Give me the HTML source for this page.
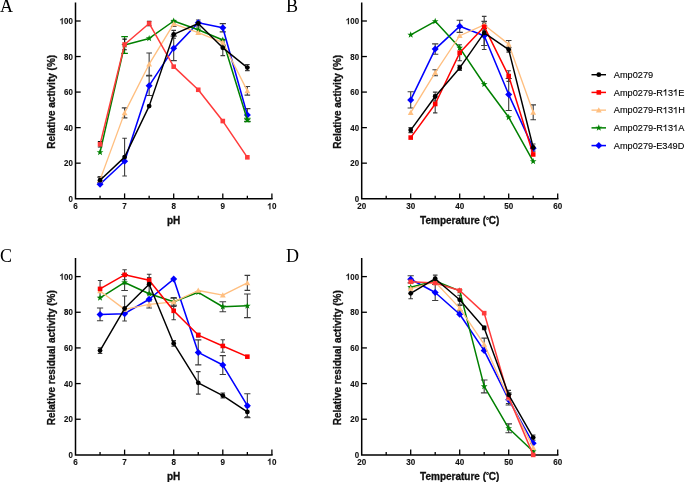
<!DOCTYPE html>
<html><head><meta charset="utf-8"><style>
html,body{margin:0;padding:0;background:#fff;width:685px;height:482px;overflow:hidden}
svg{display:block;will-change:transform}
</style></head><body>
<svg width="685" height="482" viewBox="0 0 685 482">
<style>.tl{font:bold 9.0px "Liberation Sans",sans-serif;fill:#111;stroke:#111;stroke-width:.12px}.tt{font:bold 10px "Liberation Sans",sans-serif;fill:#111;stroke:#111;stroke-width:.3px}.pl{font:18px "Liberation Serif",serif;fill:#000}.lg{font:9.2px "Liberation Sans",sans-serif;font-kerning:none;fill:#000;stroke:#000;stroke-width:.12px}</style>
<rect width="100%" height="100%" fill="#fff"/>
<path d="M75.5 3.23V198.7H271.9" fill="none" stroke="#000" stroke-width="1.5" stroke-linecap="square"/>
<g transform="translate(68.5 201.85) scale(0.8791 1)"><text x="0" y="0" class="tl">0</text></g>
<path d="M75.5 163.16H80.7" stroke="#000" stroke-width="1.3"/>
<g transform="translate(64.1 166.31) scale(0.8791 1)"><text x="0" y="0" class="tl">20</text></g>
<path d="M75.5 127.62H80.7" stroke="#000" stroke-width="1.3"/>
<g transform="translate(64.1 130.77) scale(0.8791 1)"><text x="0" y="0" class="tl">40</text></g>
<path d="M75.5 92.08H80.7" stroke="#000" stroke-width="1.3"/>
<g transform="translate(64.1 95.23) scale(0.8791 1)"><text x="0" y="0" class="tl">60</text></g>
<path d="M75.5 56.54H80.7" stroke="#000" stroke-width="1.3"/>
<g transform="translate(64.1 59.69) scale(0.8791 1)"><text x="0" y="0" class="tl">80</text></g>
<path d="M75.5 21H80.7" stroke="#000" stroke-width="1.3"/>
<g transform="translate(59.7 24.15) scale(0.8791 1)"><text x="0" y="0" class="tl"> 00</text><path transform="translate(0 0) scale(0.004395 -0.004395)" d="M780 0L510 0L510 1040Q400 940 110 840L110 1050Q330 1125 450 1235Q560 1335 600 1425L780 1425Z" fill="#111" stroke="#111" stroke-width="27.3"/></g>
<path d="M100.05 198.7V195.7" stroke="#000" stroke-width="1.3"/>
<path d="M124.6 198.7V193.4" stroke="#000" stroke-width="1.3"/>
<path d="M149.15 198.7V195.7" stroke="#000" stroke-width="1.3"/>
<path d="M173.7 198.7V193.4" stroke="#000" stroke-width="1.3"/>
<path d="M198.25 198.7V195.7" stroke="#000" stroke-width="1.3"/>
<path d="M222.8 198.7V193.4" stroke="#000" stroke-width="1.3"/>
<path d="M247.35 198.7V195.7" stroke="#000" stroke-width="1.3"/>
<path d="M271.9 198.7V193.4" stroke="#000" stroke-width="1.3"/>
<g transform="translate(73.25 209.3) scale(0.8990 1)"><text x="0" y="0" class="tl">6</text></g>
<g transform="translate(122.35 209.3) scale(0.8990 1)"><text x="0" y="0" class="tl">7</text></g>
<g transform="translate(171.45 209.3) scale(0.8990 1)"><text x="0" y="0" class="tl">8</text></g>
<g transform="translate(220.55 209.3) scale(0.8990 1)"><text x="0" y="0" class="tl">9</text></g>
<g transform="translate(267.4 209.3) scale(0.8990 1)"><text x="0" y="0" class="tl"> 0</text><path transform="translate(0 0) scale(0.004395 -0.004395)" d="M780 0L510 0L510 1040Q400 940 110 840L110 1050Q330 1125 450 1235Q560 1335 600 1425L780 1425Z" fill="#111" stroke="#111" stroke-width="27.3"/></g>
<text x="173.7" y="224.1" text-anchor="middle" class="tt">pH</text>
<text transform="translate(54.5 101.86) rotate(-90)" x="0" y="0" text-anchor="middle" class="tt">Relative activity (%)</text>
<path d="M149.15 75.91V95.46M146.05 75.91H152.25M146.05 95.46H152.25" stroke="#3c3c3c" stroke-width="1.1" fill="none"/>
<path d="M173.7 36.1V60.63M170.6 36.1H176.8M170.6 60.63H176.8" stroke="#3c3c3c" stroke-width="1.1" fill="none"/>
<path d="M222.8 23.67V31.84M219.7 23.67H225.9M219.7 31.84H225.9" stroke="#3c3c3c" stroke-width="1.1" fill="none"/>
<path d="M247.35 108.61V121.4M244.25 108.61H250.45M244.25 121.4H250.45" stroke="#3c3c3c" stroke-width="1.1" fill="none"/>
<path d="M124.6 36.64V53.34M121.3 36.64H127.9M121.3 53.34H127.9" stroke="#008000" stroke-width="1.1" fill="none"/>
<path d="M247.35 118.2V121.76M244.05 118.2H250.65M244.05 121.76H250.65" stroke="#008000" stroke-width="1.1" fill="none"/>
<path d="M100.05 177.2V182.53M97.25 177.2H102.85M97.25 182.53H102.85" stroke="#3c3c3c" stroke-width="1.1" fill="none"/>
<path d="M124.6 107.9V117.85M121.8 107.9H127.4M121.8 117.85H127.4" stroke="#3c3c3c" stroke-width="1.1" fill="none"/>
<path d="M149.15 52.99V75.38M146.35 52.99H151.95M146.35 75.38H151.95" stroke="#3c3c3c" stroke-width="1.1" fill="none"/>
<path d="M173.7 21.18V26.51M170.9 21.18H176.5M170.9 26.51H176.5" stroke="#3c3c3c" stroke-width="1.1" fill="none"/>
<path d="M222.8 39.84V45.17M220 39.84H225.6M220 45.17H225.6" stroke="#3c3c3c" stroke-width="1.1" fill="none"/>
<path d="M247.35 86.57V95.1M244.55 86.57H250.15M244.55 95.1H250.15" stroke="#3c3c3c" stroke-width="1.1" fill="none"/>
<path d="M100.05 141.66V146.99M97.85 141.66H102.25M97.85 146.99H102.25" stroke="#111" stroke-width="1.1" fill="none"/>
<path d="M124.6 39.13V49.79M122.4 39.13H126.8M122.4 49.79H126.8" stroke="#111" stroke-width="1.1" fill="none"/>
<path d="M149.15 21.36V25.62M146.95 21.36H151.35M146.95 25.62H151.35" stroke="#111" stroke-width="1.1" fill="none"/>
<path d="M100.05 176.67V183.77M97.75 176.67H102.35M97.75 183.77H102.35" stroke="#3c3c3c" stroke-width="1.1" fill="none"/>
<path d="M124.6 138.28V175.95M122.3 138.28H126.9M122.3 175.95H126.9" stroke="#3c3c3c" stroke-width="1.1" fill="none"/>
<path d="M173.7 30.42V38.24M171.4 30.42H176M171.4 38.24H176" stroke="#3c3c3c" stroke-width="1.1" fill="none"/>
<path d="M198.25 19.93V27.04M195.95 19.93H200.55M195.95 27.04H200.55" stroke="#3c3c3c" stroke-width="1.1" fill="none"/>
<path d="M222.8 40.01V55.65M220.5 40.01H225.1M220.5 55.65H225.1" stroke="#3c3c3c" stroke-width="1.1" fill="none"/>
<path d="M247.35 64.54V70.58M245.05 64.54H249.65M245.05 70.58H249.65" stroke="#3c3c3c" stroke-width="1.1" fill="none"/>
<polyline points="100.05,184.31 124.6,161.21 149.15,85.68 173.7,48.37 198.25,22.78 222.8,27.75 247.35,115" fill="none" stroke="#0000ff" stroke-width="1.55" stroke-linejoin="round"/>
<path d="M100.05 180.81L103.55 184.31L100.05 187.81L96.55 184.31Z" fill="#0000ff"/>
<path d="M124.6 157.71L128.1 161.21L124.6 164.71L121.1 161.21Z" fill="#0000ff"/>
<path d="M149.15 82.18L152.65 85.68L149.15 89.18L145.65 85.68Z" fill="#0000ff"/>
<path d="M173.7 44.87L177.2 48.37L173.7 51.87L170.2 48.37Z" fill="#0000ff"/>
<path d="M198.25 19.28L201.75 22.78L198.25 26.28L194.75 22.78Z" fill="#0000ff"/>
<path d="M222.8 24.25L226.3 27.75L222.8 31.25L219.3 27.75Z" fill="#0000ff"/>
<path d="M247.35 111.5L250.85 115L247.35 118.5L243.85 115Z" fill="#0000ff"/>
<polyline points="100.05,152.32 124.6,44.99 149.15,38.41 173.7,21 198.25,29.71 222.8,40.01 247.35,119.98" fill="none" stroke="#008000" stroke-width="1.5" stroke-linejoin="round"/>
<path d="M100.05 148.82L100.9 151.15L103.38 151.24L101.43 152.77L102.11 155.15L100.05 153.77L97.99 155.15L98.67 152.77L96.72 151.24L99.2 151.15Z" fill="#008000"/>
<path d="M124.6 41.49L125.45 43.82L127.93 43.91L125.98 45.44L126.66 47.82L124.6 46.44L122.54 47.82L123.22 45.44L121.27 43.91L123.75 43.82Z" fill="#008000"/>
<path d="M149.15 34.91L150 37.24L152.48 37.33L150.53 38.86L151.21 41.25L149.15 39.86L147.09 41.25L147.77 38.86L145.82 37.33L148.3 37.24Z" fill="#008000"/>
<path d="M173.7 17.5L174.55 19.83L177.03 19.92L175.08 21.45L175.76 23.83L173.7 22.45L171.64 23.83L172.32 21.45L170.37 19.92L172.85 19.83Z" fill="#008000"/>
<path d="M198.25 26.21L199.1 28.53L201.58 28.63L199.63 30.16L200.31 32.54L198.25 31.16L196.19 32.54L196.87 30.16L194.92 28.63L197.4 28.53Z" fill="#008000"/>
<path d="M222.8 36.51L223.65 38.84L226.13 38.93L224.18 40.46L224.86 42.85L222.8 41.46L220.74 42.85L221.42 40.46L219.47 38.93L221.95 38.84Z" fill="#008000"/>
<path d="M247.35 116.48L248.2 118.81L250.68 118.9L248.73 120.43L249.41 122.81L247.35 121.43L245.29 122.81L245.97 120.43L244.02 118.9L246.5 118.81Z" fill="#008000"/>
<polyline points="100.05,179.86 124.6,112.87 149.15,64.18 173.7,23.84 198.25,32.73 222.8,42.5 247.35,90.84" fill="none" stroke="#ffbf80" stroke-width="1.35" stroke-linejoin="round"/>
<path d="M100.05 176.96L102.95 182.18L97.15 182.18Z" fill="#ffbf80"/>
<path d="M124.6 109.97L127.5 115.19L121.7 115.19Z" fill="#ffbf80"/>
<path d="M149.15 61.28L152.05 66.5L146.25 66.5Z" fill="#ffbf80"/>
<path d="M173.7 20.94L176.6 26.16L170.8 26.16Z" fill="#ffbf80"/>
<path d="M198.25 29.83L201.15 35.05L195.35 35.05Z" fill="#ffbf80"/>
<path d="M222.8 39.6L225.7 44.82L219.9 44.82Z" fill="#ffbf80"/>
<path d="M247.35 87.94L250.25 93.16L244.45 93.16Z" fill="#ffbf80"/>
<polyline points="100.05,144.32 124.6,44.46 149.15,23.49 173.7,66.67 198.25,89.77 222.8,121.05 247.35,157.3" fill="none" stroke="#ff3b3b" stroke-width="1.5" stroke-linejoin="round"/>
<rect x="97.75" y="142.02" width="4.6" height="4.6" fill="#ff3b3b"/>
<rect x="122.3" y="42.16" width="4.6" height="4.6" fill="#ff3b3b"/>
<rect x="146.85" y="21.19" width="4.6" height="4.6" fill="#ff3b3b"/>
<rect x="171.4" y="64.37" width="4.6" height="4.6" fill="#ff3b3b"/>
<rect x="195.95" y="87.47" width="4.6" height="4.6" fill="#ff3b3b"/>
<rect x="220.5" y="118.75" width="4.6" height="4.6" fill="#ff3b3b"/>
<rect x="245.05" y="155" width="4.6" height="4.6" fill="#ff3b3b"/>
<polyline points="100.05,180.22 124.6,157.12 149.15,106.12 173.7,34.33 198.25,23.49 222.8,47.83 247.35,67.56" fill="none" stroke="#000000" stroke-width="1.45" stroke-linejoin="round"/>
<circle cx="100.05" cy="180.22" r="2.4" fill="#000000"/>
<circle cx="124.6" cy="157.12" r="2.4" fill="#000000"/>
<circle cx="149.15" cy="106.12" r="2.4" fill="#000000"/>
<circle cx="173.7" cy="34.33" r="2.4" fill="#000000"/>
<circle cx="198.25" cy="23.49" r="2.4" fill="#000000"/>
<circle cx="222.8" cy="47.83" r="2.4" fill="#000000"/>
<circle cx="247.35" cy="67.56" r="2.4" fill="#000000"/>
<path d="M361.7 3.23V198.7H557.7" fill="none" stroke="#000" stroke-width="1.5" stroke-linecap="square"/>
<g transform="translate(354.7 201.85) scale(0.8791 1)"><text x="0" y="0" class="tl">0</text></g>
<path d="M361.7 163.16H366.9" stroke="#000" stroke-width="1.3"/>
<g transform="translate(350.3 166.31) scale(0.8791 1)"><text x="0" y="0" class="tl">20</text></g>
<path d="M361.7 127.62H366.9" stroke="#000" stroke-width="1.3"/>
<g transform="translate(350.3 130.77) scale(0.8791 1)"><text x="0" y="0" class="tl">40</text></g>
<path d="M361.7 92.08H366.9" stroke="#000" stroke-width="1.3"/>
<g transform="translate(350.3 95.23) scale(0.8791 1)"><text x="0" y="0" class="tl">60</text></g>
<path d="M361.7 56.54H366.9" stroke="#000" stroke-width="1.3"/>
<g transform="translate(350.3 59.69) scale(0.8791 1)"><text x="0" y="0" class="tl">80</text></g>
<path d="M361.7 21H366.9" stroke="#000" stroke-width="1.3"/>
<g transform="translate(345.9 24.15) scale(0.8791 1)"><text x="0" y="0" class="tl"> 00</text><path transform="translate(0 0) scale(0.004395 -0.004395)" d="M780 0L510 0L510 1040Q400 940 110 840L110 1050Q330 1125 450 1235Q560 1335 600 1425L780 1425Z" fill="#111" stroke="#111" stroke-width="27.3"/></g>
<path d="M386.2 198.7V195.7" stroke="#000" stroke-width="1.3"/>
<path d="M410.7 198.7V193.4" stroke="#000" stroke-width="1.3"/>
<path d="M435.2 198.7V195.7" stroke="#000" stroke-width="1.3"/>
<path d="M459.7 198.7V193.4" stroke="#000" stroke-width="1.3"/>
<path d="M484.2 198.7V195.7" stroke="#000" stroke-width="1.3"/>
<path d="M508.7 198.7V193.4" stroke="#000" stroke-width="1.3"/>
<path d="M533.2 198.7V195.7" stroke="#000" stroke-width="1.3"/>
<path d="M557.7 198.7V193.4" stroke="#000" stroke-width="1.3"/>
<g transform="translate(357.2 209.3) scale(0.8990 1)"><text x="0" y="0" class="tl">20</text></g>
<g transform="translate(406.2 209.3) scale(0.8990 1)"><text x="0" y="0" class="tl">30</text></g>
<g transform="translate(455.2 209.3) scale(0.8990 1)"><text x="0" y="0" class="tl">40</text></g>
<g transform="translate(504.2 209.3) scale(0.8990 1)"><text x="0" y="0" class="tl">50</text></g>
<g transform="translate(553.2 209.3) scale(0.8990 1)"><text x="0" y="0" class="tl">60</text></g>
<text x="459.7" y="224.1" text-anchor="middle" class="tt">Temperature (<tspan font-size="7.5" dy="-1.2">°</tspan><tspan dy="1.2" dx="-0.3">C)</tspan></text>
<text transform="translate(340.7 101.86) rotate(-90)" x="0" y="0" text-anchor="middle" class="tt">Relative activity (%)</text>
<path d="M410.7 91.72V108.07M407.6 91.72H413.8M407.6 108.07H413.8" stroke="#3c3c3c" stroke-width="1.1" fill="none"/>
<path d="M435.2 43.92V54.23M432.1 43.92H438.3M432.1 54.23H438.3" stroke="#3c3c3c" stroke-width="1.1" fill="none"/>
<path d="M459.7 20.29V32.37M456.6 20.29H462.8M456.6 32.37H462.8" stroke="#3c3c3c" stroke-width="1.1" fill="none"/>
<path d="M484.2 25.98V45.52M481.1 25.98H487.3M481.1 45.52H487.3" stroke="#3c3c3c" stroke-width="1.1" fill="none"/>
<path d="M508.7 78.57V110.56M505.6 78.57H511.8M505.6 110.56H511.8" stroke="#3c3c3c" stroke-width="1.1" fill="none"/>
<path d="M435.2 69.69V75.73M432.4 69.69H438M432.4 75.73H438" stroke="#3c3c3c" stroke-width="1.1" fill="none"/>
<path d="M484.2 21.36V28.46M481.4 21.36H487M481.4 28.46H487" stroke="#3c3c3c" stroke-width="1.1" fill="none"/>
<path d="M508.7 40.55V47.66M505.9 40.55H511.5M505.9 47.66H511.5" stroke="#3c3c3c" stroke-width="1.1" fill="none"/>
<path d="M533.2 104.87V119.8M530.4 104.87H536M530.4 119.8H536" stroke="#3c3c3c" stroke-width="1.1" fill="none"/>
<path d="M435.2 95.1V112.87M433 95.1H437.4M433 112.87H437.4" stroke="#3c3c3c" stroke-width="1.1" fill="none"/>
<path d="M459.7 44.81V60.8M457.5 44.81H461.9M457.5 60.8H461.9" stroke="#3c3c3c" stroke-width="1.1" fill="none"/>
<path d="M484.2 23.13V30.24M482 23.13H486.4M482 30.24H486.4" stroke="#3c3c3c" stroke-width="1.1" fill="none"/>
<path d="M508.7 70.76V81.42M506.5 70.76H510.9M506.5 81.42H510.9" stroke="#3c3c3c" stroke-width="1.1" fill="none"/>
<path d="M410.7 127.62V132.6M408.4 127.62H413M408.4 132.6H413" stroke="#3c3c3c" stroke-width="1.1" fill="none"/>
<path d="M435.2 92.08V100.96M432.9 92.08H437.5M432.9 100.96H437.5" stroke="#3c3c3c" stroke-width="1.1" fill="none"/>
<path d="M459.7 65.42V70.4M457.4 65.42H462M457.4 70.4H462" stroke="#3c3c3c" stroke-width="1.1" fill="none"/>
<path d="M484.2 16.38V49.43M481.9 16.38H486.5M481.9 49.43H486.5" stroke="#3c3c3c" stroke-width="1.1" fill="none"/>
<path d="M508.7 47.12V52.1M506.4 47.12H511M506.4 52.1H511" stroke="#3c3c3c" stroke-width="1.1" fill="none"/>
<path d="M533.2 143.97V151.08M530.9 143.97H535.5M530.9 151.08H535.5" stroke="#3c3c3c" stroke-width="1.1" fill="none"/>
<polyline points="410.7,99.9 435.2,49.08 459.7,26.33 484.2,35.75 508.7,94.57 533.2,148.23" fill="none" stroke="#0000ff" stroke-width="1.55" stroke-linejoin="round"/>
<path d="M410.7 96.4L414.2 99.9L410.7 103.4L407.2 99.9Z" fill="#0000ff"/>
<path d="M435.2 45.58L438.7 49.08L435.2 52.58L431.7 49.08Z" fill="#0000ff"/>
<path d="M459.7 22.83L463.2 26.33L459.7 29.83L456.2 26.33Z" fill="#0000ff"/>
<path d="M484.2 32.25L487.7 35.75L484.2 39.25L480.7 35.75Z" fill="#0000ff"/>
<path d="M508.7 91.07L512.2 94.57L508.7 98.07L505.2 94.57Z" fill="#0000ff"/>
<path d="M533.2 144.73L536.7 148.23L533.2 151.73L529.7 148.23Z" fill="#0000ff"/>
<polyline points="410.7,34.86 435.2,21.36 459.7,47.83 484.2,84.26 508.7,117.31 533.2,161.38" fill="none" stroke="#008000" stroke-width="1.5" stroke-linejoin="round"/>
<path d="M410.7 31.36L411.55 33.69L414.03 33.78L412.08 35.31L412.76 37.69L410.7 36.31L408.64 37.69L409.32 35.31L407.37 33.78L409.85 33.69Z" fill="#008000"/>
<path d="M435.2 17.86L436.05 20.18L438.53 20.27L436.58 21.8L437.26 24.19L435.2 22.81L433.14 24.19L433.82 21.8L431.87 20.27L434.35 20.18Z" fill="#008000"/>
<path d="M459.7 44.33L460.55 46.66L463.03 46.75L461.08 48.28L461.76 50.66L459.7 49.28L457.64 50.66L458.32 48.28L456.37 46.75L458.85 46.66Z" fill="#008000"/>
<path d="M484.2 80.76L485.05 83.09L487.53 83.18L485.58 84.71L486.26 87.09L484.2 85.71L482.14 87.09L482.82 84.71L480.87 83.18L483.35 83.09Z" fill="#008000"/>
<path d="M508.7 113.81L509.55 116.14L512.03 116.23L510.08 117.76L510.76 120.14L508.7 118.76L506.64 120.14L507.32 117.76L505.37 116.23L507.85 116.14Z" fill="#008000"/>
<path d="M533.2 157.88L534.05 160.21L536.53 160.3L534.58 161.83L535.26 164.21L533.2 162.83L531.14 164.21L531.82 161.83L529.87 160.3L532.35 160.21Z" fill="#008000"/>
<polyline points="410.7,112.69 435.2,72.71 459.7,35.75 484.2,24.91 508.7,44.1 533.2,112.34" fill="none" stroke="#ffbf80" stroke-width="1.35" stroke-linejoin="round"/>
<path d="M410.7 109.79L413.6 115.01L407.8 115.01Z" fill="#ffbf80"/>
<path d="M435.2 69.81L438.1 75.03L432.3 75.03Z" fill="#ffbf80"/>
<path d="M459.7 32.85L462.6 38.07L456.8 38.07Z" fill="#ffbf80"/>
<path d="M484.2 22.01L487.1 27.23L481.3 27.23Z" fill="#ffbf80"/>
<path d="M508.7 41.2L511.6 46.42L505.8 46.42Z" fill="#ffbf80"/>
<path d="M533.2 109.44L536.1 114.66L530.3 114.66Z" fill="#ffbf80"/>
<polyline points="410.7,137.57 435.2,103.99 459.7,52.81 484.2,26.69 508.7,76.09 533.2,154.45" fill="none" stroke="#ff0000" stroke-width="1.5" stroke-linejoin="round"/>
<rect x="408.4" y="135.27" width="4.6" height="4.6" fill="#ff0000"/>
<rect x="432.9" y="101.69" width="4.6" height="4.6" fill="#ff0000"/>
<rect x="457.4" y="50.51" width="4.6" height="4.6" fill="#ff0000"/>
<rect x="481.9" y="24.39" width="4.6" height="4.6" fill="#ff0000"/>
<rect x="506.4" y="73.79" width="4.6" height="4.6" fill="#ff0000"/>
<rect x="530.9" y="152.15" width="4.6" height="4.6" fill="#ff0000"/>
<polyline points="410.7,130.11 435.2,96.52 459.7,67.91 484.2,32.91 508.7,49.61 533.2,147.52" fill="none" stroke="#000000" stroke-width="1.45" stroke-linejoin="round"/>
<circle cx="410.7" cy="130.11" r="2.4" fill="#000000"/>
<circle cx="435.2" cy="96.52" r="2.4" fill="#000000"/>
<circle cx="459.7" cy="67.91" r="2.4" fill="#000000"/>
<circle cx="484.2" cy="32.91" r="2.4" fill="#000000"/>
<circle cx="508.7" cy="49.61" r="2.4" fill="#000000"/>
<circle cx="533.2" cy="147.52" r="2.4" fill="#000000"/>
<path d="M75.5 258.77V454.9H271.9" fill="none" stroke="#000" stroke-width="1.5" stroke-linecap="square"/>
<g transform="translate(68.5 458.05) scale(0.8791 1)"><text x="0" y="0" class="tl">0</text></g>
<path d="M75.5 419.24H80.7" stroke="#000" stroke-width="1.3"/>
<g transform="translate(64.1 422.39) scale(0.8791 1)"><text x="0" y="0" class="tl">20</text></g>
<path d="M75.5 383.58H80.7" stroke="#000" stroke-width="1.3"/>
<g transform="translate(64.1 386.73) scale(0.8791 1)"><text x="0" y="0" class="tl">40</text></g>
<path d="M75.5 347.92H80.7" stroke="#000" stroke-width="1.3"/>
<g transform="translate(64.1 351.07) scale(0.8791 1)"><text x="0" y="0" class="tl">60</text></g>
<path d="M75.5 312.26H80.7" stroke="#000" stroke-width="1.3"/>
<g transform="translate(64.1 315.41) scale(0.8791 1)"><text x="0" y="0" class="tl">80</text></g>
<path d="M75.5 276.6H80.7" stroke="#000" stroke-width="1.3"/>
<g transform="translate(59.7 279.75) scale(0.8791 1)"><text x="0" y="0" class="tl"> 00</text><path transform="translate(0 0) scale(0.004395 -0.004395)" d="M780 0L510 0L510 1040Q400 940 110 840L110 1050Q330 1125 450 1235Q560 1335 600 1425L780 1425Z" fill="#111" stroke="#111" stroke-width="27.3"/></g>
<path d="M100.05 454.9V451.9" stroke="#000" stroke-width="1.3"/>
<path d="M124.6 454.9V449.6" stroke="#000" stroke-width="1.3"/>
<path d="M149.15 454.9V451.9" stroke="#000" stroke-width="1.3"/>
<path d="M173.7 454.9V449.6" stroke="#000" stroke-width="1.3"/>
<path d="M198.25 454.9V451.9" stroke="#000" stroke-width="1.3"/>
<path d="M222.8 454.9V449.6" stroke="#000" stroke-width="1.3"/>
<path d="M247.35 454.9V451.9" stroke="#000" stroke-width="1.3"/>
<path d="M271.9 454.9V449.6" stroke="#000" stroke-width="1.3"/>
<g transform="translate(73.25 464.8) scale(0.8990 1)"><text x="0" y="0" class="tl">6</text></g>
<g transform="translate(122.35 464.8) scale(0.8990 1)"><text x="0" y="0" class="tl">7</text></g>
<g transform="translate(171.45 464.8) scale(0.8990 1)"><text x="0" y="0" class="tl">8</text></g>
<g transform="translate(220.55 464.8) scale(0.8990 1)"><text x="0" y="0" class="tl">9</text></g>
<g transform="translate(267.4 464.8) scale(0.8990 1)"><text x="0" y="0" class="tl"> 0</text><path transform="translate(0 0) scale(0.004395 -0.004395)" d="M780 0L510 0L510 1040Q400 940 110 840L110 1050Q330 1125 450 1235Q560 1335 600 1425L780 1425Z" fill="#111" stroke="#111" stroke-width="27.3"/></g>
<text x="173.7" y="479.6" text-anchor="middle" class="tt">pH</text>
<text transform="translate(54.5 357.73) rotate(-90)" x="0" y="0" text-anchor="middle" class="tt">Relative residual activity (%)</text>
<path d="M100.05 307.98V320.82M96.95 307.98H103.15M96.95 320.82H103.15" stroke="#3c3c3c" stroke-width="1.1" fill="none"/>
<path d="M198.25 339.9V364.86M195.15 339.9H201.35M195.15 364.86H201.35" stroke="#3c3c3c" stroke-width="1.1" fill="none"/>
<path d="M222.8 355.59V374.49M219.7 355.59H225.9M219.7 374.49H225.9" stroke="#3c3c3c" stroke-width="1.1" fill="none"/>
<path d="M247.35 393.74V417.64M244.25 393.74H250.45M244.25 417.64H250.45" stroke="#3c3c3c" stroke-width="1.1" fill="none"/>
<path d="M124.6 274.46V290.51M121.3 274.46H127.9M121.3 290.51H127.9" stroke="#3c3c3c" stroke-width="1.1" fill="none"/>
<path d="M173.7 298.17V305.31M170.4 298.17H177M170.4 305.31H177" stroke="#3c3c3c" stroke-width="1.1" fill="none"/>
<path d="M222.8 301.74V311.73M219.5 301.74H226.1M219.5 311.73H226.1" stroke="#3c3c3c" stroke-width="1.1" fill="none"/>
<path d="M247.35 294.07V317.61M244.05 294.07H250.65M244.05 317.61H250.65" stroke="#3c3c3c" stroke-width="1.1" fill="none"/>
<path d="M149.15 300.85V307.98M146.35 300.85H151.95M146.35 307.98H151.95" stroke="#3c3c3c" stroke-width="1.1" fill="none"/>
<path d="M173.7 297.46V306.38M170.9 297.46H176.5M170.9 306.38H176.5" stroke="#3c3c3c" stroke-width="1.1" fill="none"/>
<path d="M247.35 275.35V290.33M244.55 275.35H250.15M244.55 290.33H250.15" stroke="#3c3c3c" stroke-width="1.1" fill="none"/>
<path d="M100.05 280.52V297.28M97.85 280.52H102.25M97.85 297.28H102.25" stroke="#3c3c3c" stroke-width="1.1" fill="none"/>
<path d="M124.6 269.82V279.81M122.4 269.82H126.8M122.4 279.81H126.8" stroke="#3c3c3c" stroke-width="1.1" fill="none"/>
<path d="M149.15 277.49V282.84M146.95 277.49H151.35M146.95 282.84H151.35" stroke="#3c3c3c" stroke-width="1.1" fill="none"/>
<path d="M173.7 301.92V319.75M171.5 301.92H175.9M171.5 319.75H175.9" stroke="#3c3c3c" stroke-width="1.1" fill="none"/>
<path d="M198.25 333.3V336.87M196.05 333.3H200.45M196.05 336.87H200.45" stroke="#3c3c3c" stroke-width="1.1" fill="none"/>
<path d="M222.8 339.72V352.2M220.6 339.72H225M220.6 352.2H225" stroke="#3c3c3c" stroke-width="1.1" fill="none"/>
<path d="M100.05 347.74V353.45M97.75 347.74H102.35M97.75 353.45H102.35" stroke="#3c3c3c" stroke-width="1.1" fill="none"/>
<path d="M124.6 296.03V321M122.3 296.03H126.9M122.3 321H126.9" stroke="#3c3c3c" stroke-width="1.1" fill="none"/>
<path d="M149.15 274.28V294.25M146.85 274.28H151.45M146.85 294.25H151.45" stroke="#3c3c3c" stroke-width="1.1" fill="none"/>
<path d="M173.7 340.61V346.32M171.4 340.61H176M171.4 346.32H176" stroke="#3c3c3c" stroke-width="1.1" fill="none"/>
<path d="M198.25 371.63V394.1M195.95 371.63H200.55M195.95 394.1H200.55" stroke="#3c3c3c" stroke-width="1.1" fill="none"/>
<path d="M222.8 393.03V398.02M220.5 393.03H225.1M220.5 398.02H225.1" stroke="#3c3c3c" stroke-width="1.1" fill="none"/>
<path d="M247.35 406.94V416.92M245.05 406.94H249.65M245.05 416.92H249.65" stroke="#3c3c3c" stroke-width="1.1" fill="none"/>
<polyline points="100.05,314.4 124.6,313.69 149.15,299.24 173.7,279.1 198.25,352.38 222.8,365.04 247.35,405.69" fill="none" stroke="#0000ff" stroke-width="1.55" stroke-linejoin="round"/>
<path d="M100.05 310.9L103.55 314.4L100.05 317.9L96.55 314.4Z" fill="#0000ff"/>
<path d="M124.6 310.19L128.1 313.69L124.6 317.19L121.1 313.69Z" fill="#0000ff"/>
<path d="M149.15 295.74L152.65 299.24L149.15 302.74L145.65 299.24Z" fill="#0000ff"/>
<path d="M173.7 275.6L177.2 279.1L173.7 282.6L170.2 279.1Z" fill="#0000ff"/>
<path d="M198.25 348.88L201.75 352.38L198.25 355.88L194.75 352.38Z" fill="#0000ff"/>
<path d="M222.8 361.54L226.3 365.04L222.8 368.54L219.3 365.04Z" fill="#0000ff"/>
<path d="M247.35 402.19L250.85 405.69L247.35 409.19L243.85 405.69Z" fill="#0000ff"/>
<polyline points="100.05,297.82 124.6,282.48 149.15,293.72 173.7,301.74 198.25,292.29 222.8,306.73 247.35,305.84" fill="none" stroke="#008000" stroke-width="1.5" stroke-linejoin="round"/>
<path d="M100.05 294.32L100.9 296.64L103.38 296.74L101.43 298.27L102.11 300.65L100.05 299.27L97.99 300.65L98.67 298.27L96.72 296.74L99.2 296.64Z" fill="#008000"/>
<path d="M124.6 278.98L125.45 281.31L127.93 281.4L125.98 282.93L126.66 285.32L124.6 283.93L122.54 285.32L123.22 282.93L121.27 281.4L123.75 281.31Z" fill="#008000"/>
<path d="M149.15 290.22L150 292.54L152.48 292.64L150.53 294.16L151.21 296.55L149.15 295.17L147.09 296.55L147.77 294.16L145.82 292.64L148.3 292.54Z" fill="#008000"/>
<path d="M173.7 298.24L174.55 300.57L177.03 300.66L175.08 302.19L175.76 304.57L173.7 303.19L171.64 304.57L172.32 302.19L170.37 300.66L172.85 300.57Z" fill="#008000"/>
<path d="M198.25 288.79L199.1 291.12L201.58 291.21L199.63 292.74L200.31 295.12L198.25 293.74L196.19 295.12L196.87 292.74L194.92 291.21L197.4 291.12Z" fill="#008000"/>
<path d="M222.8 303.23L223.65 305.56L226.13 305.65L224.18 307.18L224.86 309.56L222.8 308.18L220.74 309.56L221.42 307.18L219.47 305.65L221.95 305.56Z" fill="#008000"/>
<path d="M247.35 302.34L248.2 304.67L250.68 304.76L248.73 306.29L249.41 308.67L247.35 307.29L245.29 308.67L245.97 306.29L244.02 304.76L246.5 304.67Z" fill="#008000"/>
<polyline points="100.05,291.04 124.6,309.41 149.15,304.41 173.7,301.92 198.25,290.51 222.8,295.14 247.35,282.84" fill="none" stroke="#ffbf80" stroke-width="1.35" stroke-linejoin="round"/>
<path d="M100.05 288.14L102.95 293.36L97.15 293.36Z" fill="#ffbf80"/>
<path d="M124.6 306.51L127.5 311.73L121.7 311.73Z" fill="#ffbf80"/>
<path d="M149.15 301.51L152.05 306.73L146.25 306.73Z" fill="#ffbf80"/>
<path d="M173.7 299.02L176.6 304.24L170.8 304.24Z" fill="#ffbf80"/>
<path d="M198.25 287.61L201.15 292.83L195.35 292.83Z" fill="#ffbf80"/>
<path d="M222.8 292.24L225.7 297.46L219.9 297.46Z" fill="#ffbf80"/>
<path d="M247.35 279.94L250.25 285.16L244.45 285.16Z" fill="#ffbf80"/>
<polyline points="100.05,288.9 124.6,274.82 149.15,280.17 173.7,310.83 198.25,335.08 222.8,345.96 247.35,356.66" fill="none" stroke="#ff0000" stroke-width="1.5" stroke-linejoin="round"/>
<rect x="97.75" y="286.6" width="4.6" height="4.6" fill="#ff0000"/>
<rect x="122.3" y="272.52" width="4.6" height="4.6" fill="#ff0000"/>
<rect x="146.85" y="277.87" width="4.6" height="4.6" fill="#ff0000"/>
<rect x="171.4" y="308.53" width="4.6" height="4.6" fill="#ff0000"/>
<rect x="195.95" y="332.78" width="4.6" height="4.6" fill="#ff0000"/>
<rect x="220.5" y="343.66" width="4.6" height="4.6" fill="#ff0000"/>
<rect x="245.05" y="354.36" width="4.6" height="4.6" fill="#ff0000"/>
<polyline points="100.05,350.59 124.6,308.52 149.15,284.27 173.7,343.46 198.25,382.87 222.8,395.53 247.35,411.93" fill="none" stroke="#000000" stroke-width="1.45" stroke-linejoin="round"/>
<circle cx="100.05" cy="350.59" r="2.4" fill="#000000"/>
<circle cx="124.6" cy="308.52" r="2.4" fill="#000000"/>
<circle cx="149.15" cy="284.27" r="2.4" fill="#000000"/>
<circle cx="173.7" cy="343.46" r="2.4" fill="#000000"/>
<circle cx="198.25" cy="382.87" r="2.4" fill="#000000"/>
<circle cx="222.8" cy="395.53" r="2.4" fill="#000000"/>
<circle cx="247.35" cy="411.93" r="2.4" fill="#000000"/>
<path d="M361.7 258.77V454.9H557.7" fill="none" stroke="#000" stroke-width="1.5" stroke-linecap="square"/>
<g transform="translate(354.7 458.05) scale(0.8791 1)"><text x="0" y="0" class="tl">0</text></g>
<path d="M361.7 419.24H366.9" stroke="#000" stroke-width="1.3"/>
<g transform="translate(350.3 422.39) scale(0.8791 1)"><text x="0" y="0" class="tl">20</text></g>
<path d="M361.7 383.58H366.9" stroke="#000" stroke-width="1.3"/>
<g transform="translate(350.3 386.73) scale(0.8791 1)"><text x="0" y="0" class="tl">40</text></g>
<path d="M361.7 347.92H366.9" stroke="#000" stroke-width="1.3"/>
<g transform="translate(350.3 351.07) scale(0.8791 1)"><text x="0" y="0" class="tl">60</text></g>
<path d="M361.7 312.26H366.9" stroke="#000" stroke-width="1.3"/>
<g transform="translate(350.3 315.41) scale(0.8791 1)"><text x="0" y="0" class="tl">80</text></g>
<path d="M361.7 276.6H366.9" stroke="#000" stroke-width="1.3"/>
<g transform="translate(345.9 279.75) scale(0.8791 1)"><text x="0" y="0" class="tl"> 00</text><path transform="translate(0 0) scale(0.004395 -0.004395)" d="M780 0L510 0L510 1040Q400 940 110 840L110 1050Q330 1125 450 1235Q560 1335 600 1425L780 1425Z" fill="#111" stroke="#111" stroke-width="27.3"/></g>
<path d="M386.2 454.9V451.9" stroke="#000" stroke-width="1.3"/>
<path d="M410.7 454.9V449.6" stroke="#000" stroke-width="1.3"/>
<path d="M435.2 454.9V451.9" stroke="#000" stroke-width="1.3"/>
<path d="M459.7 454.9V449.6" stroke="#000" stroke-width="1.3"/>
<path d="M484.2 454.9V451.9" stroke="#000" stroke-width="1.3"/>
<path d="M508.7 454.9V449.6" stroke="#000" stroke-width="1.3"/>
<path d="M533.2 454.9V451.9" stroke="#000" stroke-width="1.3"/>
<path d="M557.7 454.9V449.6" stroke="#000" stroke-width="1.3"/>
<g transform="translate(357.2 464.8) scale(0.8990 1)"><text x="0" y="0" class="tl">20</text></g>
<g transform="translate(406.2 464.8) scale(0.8990 1)"><text x="0" y="0" class="tl">30</text></g>
<g transform="translate(455.2 464.8) scale(0.8990 1)"><text x="0" y="0" class="tl">40</text></g>
<g transform="translate(504.2 464.8) scale(0.8990 1)"><text x="0" y="0" class="tl">50</text></g>
<g transform="translate(553.2 464.8) scale(0.8990 1)"><text x="0" y="0" class="tl">60</text></g>
<text x="459.7" y="479.6" text-anchor="middle" class="tt">Temperature (<tspan font-size="7.5" dy="-1.2">°</tspan><tspan dy="1.2" dx="-0.3">C)</tspan></text>
<text transform="translate(340.7 357.73) rotate(-90)" x="0" y="0" text-anchor="middle" class="tt">Relative residual activity (%)</text>
<path d="M410.7 275.71V282.84M407.6 275.71H413.8M407.6 282.84H413.8" stroke="#3c3c3c" stroke-width="1.1" fill="none"/>
<path d="M435.2 284.45V300.49M432.1 284.45H438.3M432.1 300.49H438.3" stroke="#3c3c3c" stroke-width="1.1" fill="none"/>
<path d="M508.7 394.28V404.98M505.6 394.28H511.8M505.6 404.98H511.8" stroke="#3c3c3c" stroke-width="1.1" fill="none"/>
<path d="M484.2 380.01V392.85M480.9 380.01H487.5M480.9 392.85H487.5" stroke="#3c3c3c" stroke-width="1.1" fill="none"/>
<path d="M508.7 423.88V432.79M505.4 423.88H512M505.4 432.79H512" stroke="#3c3c3c" stroke-width="1.1" fill="none"/>
<path d="M459.7 305.48V310.83M456.9 305.48H462.5M456.9 310.83H462.5" stroke="#3c3c3c" stroke-width="1.1" fill="none"/>
<path d="M484.2 338.11V350.59M481.4 338.11H487M481.4 350.59H487" stroke="#3c3c3c" stroke-width="1.1" fill="none"/>
<path d="M508.7 392.85V403.55M505.9 392.85H511.5M505.9 403.55H511.5" stroke="#3c3c3c" stroke-width="1.1" fill="none"/>
<path d="M410.7 288.01V298.71M408.4 288.01H413M408.4 298.71H413" stroke="#3c3c3c" stroke-width="1.1" fill="none"/>
<path d="M435.2 275.17V282.31M432.9 275.17H437.5M432.9 282.31H437.5" stroke="#3c3c3c" stroke-width="1.1" fill="none"/>
<path d="M459.7 295.32V304.24M457.4 295.32H462M457.4 304.24H462" stroke="#3c3c3c" stroke-width="1.1" fill="none"/>
<path d="M484.2 326.17V329.73M481.9 326.17H486.5M481.9 329.73H486.5" stroke="#3c3c3c" stroke-width="1.1" fill="none"/>
<path d="M508.7 390.36V399.27M506.4 390.36H511M506.4 399.27H511" stroke="#3c3c3c" stroke-width="1.1" fill="none"/>
<path d="M533.2 434.93V440.28M530.9 434.93H535.5M530.9 440.28H535.5" stroke="#3c3c3c" stroke-width="1.1" fill="none"/>
<polyline points="410.7,279.27 435.2,292.47 459.7,314.22 484.2,350.59 508.7,399.63 533.2,443.31" fill="none" stroke="#0000ff" stroke-width="1.55" stroke-linejoin="round"/>
<path d="M410.7 275.77L414.2 279.27L410.7 282.77L407.2 279.27Z" fill="#0000ff"/>
<path d="M435.2 288.97L438.7 292.47L435.2 295.97L431.7 292.47Z" fill="#0000ff"/>
<path d="M459.7 310.72L463.2 314.22L459.7 317.72L456.2 314.22Z" fill="#0000ff"/>
<path d="M484.2 347.09L487.7 350.59L484.2 354.09L480.7 350.59Z" fill="#0000ff"/>
<path d="M508.7 396.13L512.2 399.63L508.7 403.13L505.2 399.63Z" fill="#0000ff"/>
<path d="M533.2 439.81L536.7 443.31L533.2 446.81L529.7 443.31Z" fill="#0000ff"/>
<polyline points="410.7,287.3 435.2,281.06 459.7,290.86 484.2,386.43 508.7,428.33 533.2,451.51" fill="none" stroke="#008000" stroke-width="1.5" stroke-linejoin="round"/>
<path d="M410.7 283.8L411.55 286.12L414.03 286.22L412.08 287.75L412.76 290.13L410.7 288.75L408.64 290.13L409.32 287.75L407.37 286.22L409.85 286.12Z" fill="#008000"/>
<path d="M435.2 277.56L436.05 279.88L438.53 279.98L436.58 281.51L437.26 283.89L435.2 282.51L433.14 283.89L433.82 281.51L431.87 279.98L434.35 279.88Z" fill="#008000"/>
<path d="M459.7 287.36L460.55 289.69L463.03 289.78L461.08 291.31L461.76 293.7L459.7 292.31L457.64 293.7L458.32 291.31L456.37 289.78L458.85 289.69Z" fill="#008000"/>
<path d="M484.2 382.93L485.05 385.26L487.53 385.35L485.58 386.88L486.26 389.26L484.2 387.88L482.14 389.26L482.82 386.88L480.87 385.35L483.35 385.26Z" fill="#008000"/>
<path d="M508.7 424.83L509.55 427.16L512.03 427.25L510.08 428.78L510.76 431.16L508.7 429.78L506.64 431.16L507.32 428.78L505.37 427.25L507.85 427.16Z" fill="#008000"/>
<path d="M533.2 448.01L534.05 450.34L536.53 450.43L534.58 451.96L535.26 454.34L533.2 452.96L531.14 454.34L531.82 451.96L529.87 450.43L532.35 450.34Z" fill="#008000"/>
<polyline points="410.7,288.55 435.2,281.95 459.7,308.16 484.2,344.35 508.7,398.2 533.2,447.59" fill="none" stroke="#ffbf80" stroke-width="1.35" stroke-linejoin="round"/>
<path d="M410.7 285.65L413.6 290.87L407.8 290.87Z" fill="#ffbf80"/>
<path d="M435.2 279.05L438.1 284.27L432.3 284.27Z" fill="#ffbf80"/>
<path d="M459.7 305.26L462.6 310.48L456.8 310.48Z" fill="#ffbf80"/>
<path d="M484.2 341.45L487.1 346.67L481.3 346.67Z" fill="#ffbf80"/>
<path d="M508.7 395.3L511.6 400.52L505.8 400.52Z" fill="#ffbf80"/>
<path d="M533.2 444.69L536.1 449.91L530.3 449.91Z" fill="#ffbf80"/>
<polyline points="410.7,281.77 435.2,283.02 459.7,290.51 484.2,313.15 508.7,397.31 533.2,454.9" fill="none" stroke="#ff3b3b" stroke-width="1.5" stroke-linejoin="round"/>
<rect x="408.4" y="279.47" width="4.6" height="4.6" fill="#ff3b3b"/>
<rect x="432.9" y="280.72" width="4.6" height="4.6" fill="#ff3b3b"/>
<rect x="457.4" y="288.21" width="4.6" height="4.6" fill="#ff3b3b"/>
<rect x="481.9" y="310.85" width="4.6" height="4.6" fill="#ff3b3b"/>
<rect x="506.4" y="395.01" width="4.6" height="4.6" fill="#ff3b3b"/>
<rect x="530.9" y="452.6" width="4.6" height="4.6" fill="#ff3b3b"/>
<polyline points="410.7,293.36 435.2,278.74 459.7,299.78 484.2,327.95 508.7,394.81 533.2,437.6" fill="none" stroke="#000000" stroke-width="1.45" stroke-linejoin="round"/>
<circle cx="410.7" cy="293.36" r="2.4" fill="#000000"/>
<circle cx="435.2" cy="278.74" r="2.4" fill="#000000"/>
<circle cx="459.7" cy="299.78" r="2.4" fill="#000000"/>
<circle cx="484.2" cy="327.95" r="2.4" fill="#000000"/>
<circle cx="508.7" cy="394.81" r="2.4" fill="#000000"/>
<circle cx="533.2" cy="437.6" r="2.4" fill="#000000"/>
<text x="0" y="11.8" class="pl">A</text>
<text x="286" y="11.8" class="pl">B</text>
<text x="0" y="262" class="pl">C</text>
<text x="286" y="261.8" class="pl">D</text>
<path d="M591.5 74.7H606" stroke="#000000" stroke-width="1.45"/>
<circle cx="598.8" cy="74.7" r="2.4" fill="#000000"/>
<text x="613.8" y="77.9" class="lg">Amp0279</text>
<path d="M591.5 92.42H606" stroke="#ff0000" stroke-width="1.5"/>
<rect x="596.5" y="90.12" width="4.6" height="4.6" fill="#ff0000"/>
<text x="613.8" y="95.62" class="lg">Amp0279-R 3 E</text><path transform="translate(662.891 95.62) scale(0.004492 -0.004492)" d="M735 0L555 0L555 1110Q460 1020 300 945Q210 905 140 885L140 1055Q260 1095 390 1190Q520 1290 580 1425L735 1425Z" fill="#000" stroke="#000" stroke-width="26.7"/><path transform="translate(673.124 95.62) scale(0.004492 -0.004492)" d="M735 0L555 0L555 1110Q460 1020 300 945Q210 905 140 885L140 1055Q260 1095 390 1190Q520 1290 580 1425L735 1425Z" fill="#000" stroke="#000" stroke-width="26.7"/>
<path d="M591.5 110.14H606" stroke="#ffbf80" stroke-width="1.35"/>
<path d="M598.8 107.24L601.7 112.46L595.9 112.46Z" fill="#ffbf80"/>
<text x="613.8" y="113.34" class="lg">Amp0279-R 3 H</text><path transform="translate(662.891 113.34) scale(0.004492 -0.004492)" d="M735 0L555 0L555 1110Q460 1020 300 945Q210 905 140 885L140 1055Q260 1095 390 1190Q520 1290 580 1425L735 1425Z" fill="#000" stroke="#000" stroke-width="26.7"/><path transform="translate(673.124 113.34) scale(0.004492 -0.004492)" d="M735 0L555 0L555 1110Q460 1020 300 945Q210 905 140 885L140 1055Q260 1095 390 1190Q520 1290 580 1425L735 1425Z" fill="#000" stroke="#000" stroke-width="26.7"/>
<path d="M591.5 127.86H606" stroke="#008000" stroke-width="1.5"/>
<path d="M598.8 124.36L599.65 126.69L602.13 126.78L600.18 128.31L600.86 130.69L598.8 129.31L596.74 130.69L597.42 128.31L595.47 126.78L597.95 126.69Z" fill="#008000"/>
<text x="613.8" y="131.06" class="lg">Amp0279-R 3 A</text><path transform="translate(662.891 131.06) scale(0.004492 -0.004492)" d="M735 0L555 0L555 1110Q460 1020 300 945Q210 905 140 885L140 1055Q260 1095 390 1190Q520 1290 580 1425L735 1425Z" fill="#000" stroke="#000" stroke-width="26.7"/><path transform="translate(673.124 131.06) scale(0.004492 -0.004492)" d="M735 0L555 0L555 1110Q460 1020 300 945Q210 905 140 885L140 1055Q260 1095 390 1190Q520 1290 580 1425L735 1425Z" fill="#000" stroke="#000" stroke-width="26.7"/>
<path d="M591.5 145.58H606" stroke="#0000ff" stroke-width="1.55"/>
<path d="M598.8 142.08L602.3 145.58L598.8 149.08L595.3 145.58Z" fill="#0000ff"/>
<text x="613.8" y="148.78" class="lg">Amp0279-E349D</text>
</svg>
</body></html>
